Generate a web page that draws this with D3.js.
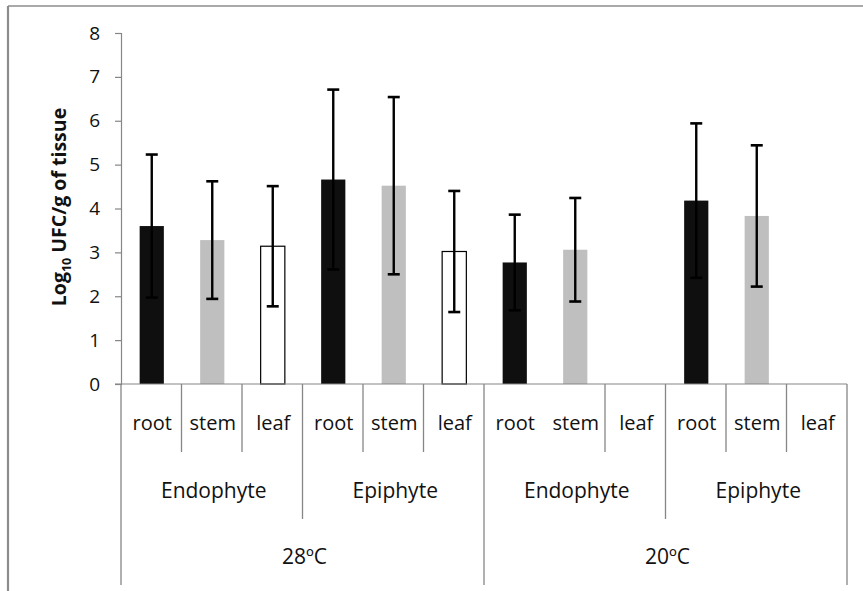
<!DOCTYPE html>
<html>
<head>
<meta charset="utf-8">
<script src="https://cdn.jsdelivr.net/npm/d3@7"></script>
<style>
  html, body { margin: 0; padding: 0; background: #fff; }
  svg { display: block; }
  text { font-family: "Open Sans", "DejaVu Sans", sans-serif; fill: #111; }
</style>
</head>
<body>
<svg id="chart" width="863" height="591"></svg>
<script>
// Bacterial counts per tissue, by life style and temperature
const temperatures = ["28ºC", "20ºC"];
const lifeStyles = ["Endophyte", "Epiphyte"];
const tissues = ["root", "stem", "leaf"];

// mean log10 UFC/g, in order temperature > life style > tissue (null = no count)
const means  = [3.60, 3.28, 3.14, 4.66, 4.52, 3.02, 2.77, 3.06, null, 4.18, 3.83, null];
// error bar half-length
const errors = [1.63, 1.34, 1.37, 2.05, 2.02, 1.38, 1.09, 1.18, null, 1.76, 1.61, null];

const yTicks = [0, 1, 2, 3, 4, 5, 6, 7, 8];

const tissueFill = { root: "#0f0f0f", stem: "#bfbfbf", leaf: "#ffffff" };

// flat category list built from the three levels
const cats = [];
temperatures.forEach((t, ti) => lifeStyles.forEach((l, li) => tissues.forEach((s, si) => {
  const i = cats.length;
  cats.push({ id: i, temp: t, life: l, tissue: s, mean: means[i], err: errors[i] });
})));

const svg = d3.select("#chart");
const axisColor = "#868686";

const plot = { left: 121, right: 847, top: 33, bottom: 384 };

const x = d3.scaleBand().domain(cats.map(d => d.id)).range([plot.left, plot.right]).padding(0);
const y = d3.scaleLinear().domain([0, 8]).range([plot.bottom, plot.top]);

// outer frame
svg.append("line").attr("x1", 8).attr("x2", 8).attr("y1", 6).attr("y2", 591)
  .attr("stroke", "#8c8c8c").attr("stroke-width", 2.2);
svg.append("line").attr("x1", 8).attr("x2", 863).attr("y1", 6).attr("y2", 6)
  .attr("stroke", "#8c8c8c").attr("stroke-width", 1.5);

// y axis
const yAxis = d3.axisLeft(y).tickValues(yTicks).tickSize(6).tickPadding(15).tickFormat(d3.format("d"));
const gy = svg.append("g").attr("transform", `translate(${plot.left},0)`).call(yAxis);
gy.select(".domain").attr("stroke", axisColor).attr("stroke-width", 1.2);
gy.selectAll(".tick line").attr("stroke", axisColor).attr("stroke-width", 1.2);
gy.selectAll(".tick text").attr("font-size", 19).attr("font-family", "Open Sans").attr("fill", "#111");

// y title
const title = svg.append("text")
  .attr("transform", `translate(66,207) rotate(-90)`)
  .attr("text-anchor", "middle")
  .attr("font-size", 19.5).attr("font-weight", "bold");
title.append("tspan").text("Log");
title.append("tspan").text("10").attr("font-size", 12.5).attr("dy", 5);
title.append("tspan").text(" UFC/g of tissue").attr("dy", -5);

// bars
const barW = x.bandwidth() * 0.4;
const shown = cats.filter(d => d.mean != null);
svg.append("g").selectAll("rect").data(shown).join("rect")
  .attr("x", d => x(d.id) + x.bandwidth() / 2 - barW / 2 + 0.5)
  .attr("width", barW)
  .attr("y", d => y(d.mean))
  .attr("height", d => y(0) - y(d.mean))
  .attr("fill", d => tissueFill[d.tissue])
  .attr("stroke", d => d.tissue === "leaf" ? "#000" : "none")
  .attr("stroke-width", 1.2);

// error bars
const capW = 12;
const eb = svg.append("g").selectAll("g").data(shown).join("g")
  .attr("transform", d => `translate(${x(d.id) + x.bandwidth() / 2 + 0.5},0)`);
eb.append("line").attr("y1", d => y(d.mean + d.err)).attr("y2", d => y(d.mean - d.err))
  .attr("stroke", "#000").attr("stroke-width", 2.4);
eb.append("line").attr("x1", -capW / 2).attr("x2", capW / 2)
  .attr("y1", d => y(d.mean + d.err)).attr("y2", d => y(d.mean + d.err))
  .attr("stroke", "#000").attr("stroke-width", 2.6);
eb.append("line").attr("x1", -capW / 2).attr("x2", capW / 2)
  .attr("y1", d => y(d.mean - d.err)).attr("y2", d => y(d.mean - d.err))
  .attr("stroke", "#000").attr("stroke-width", 2.6);

// x axis baseline (extends a little left of the y axis like the tick marks)
svg.append("line").attr("x1", plot.left - 6).attr("x2", plot.right)
  .attr("y1", y(0)).attr("y2", y(0)).attr("stroke", axisColor).attr("stroke-width", 1.2);

// multi-level category dividers
const rowTissue = 452, rowLife = 519, rowTemp = 585;
const boundaries = d3.range(cats.length + 1);
svg.append("g").selectAll("line").data(boundaries).join("line")
  .attr("x1", i => i < cats.length ? x(i) : plot.right)
  .attr("x2", i => i < cats.length ? x(i) : plot.right)
  .attr("y1", y(0))
  .attr("y2", i => i % 6 === 0 ? rowTemp : (i % 3 === 0 ? rowLife : rowTissue))
  .attr("stroke", axisColor).attr("stroke-width", 1.3)
  .attr("display", i => i === 7 ? "none" : null);

// tissue labels
svg.append("g").selectAll("text").data(cats).join("text")
  .attr("x", d => x(d.id) + x.bandwidth() / 2 + 1)
  .attr("y", 430)
  .attr("text-anchor", "middle").attr("font-size", 20)
  .text(d => d.tissue);

// life style labels
const lifeGroups = d3.range(temperatures.length * lifeStyles.length);
svg.append("g").selectAll("text").data(lifeGroups).join("text")
  .attr("x", g => x(g * 3) + x.bandwidth() * 1.5 + 2)
  .attr("y", 498)
  .attr("text-anchor", "middle").attr("font-size", 21)
  .text(g => lifeStyles[g % lifeStyles.length]);

// temperature labels
svg.append("g").selectAll("text").data(temperatures).join("text")
  .attr("x", (t, i) => x(i * 6) + x.bandwidth() * 3 + 2)
  .attr("y", 564)
  .attr("text-anchor", "middle").attr("font-size", 21)
  .text(t => t);
</script>
</body>
</html>
